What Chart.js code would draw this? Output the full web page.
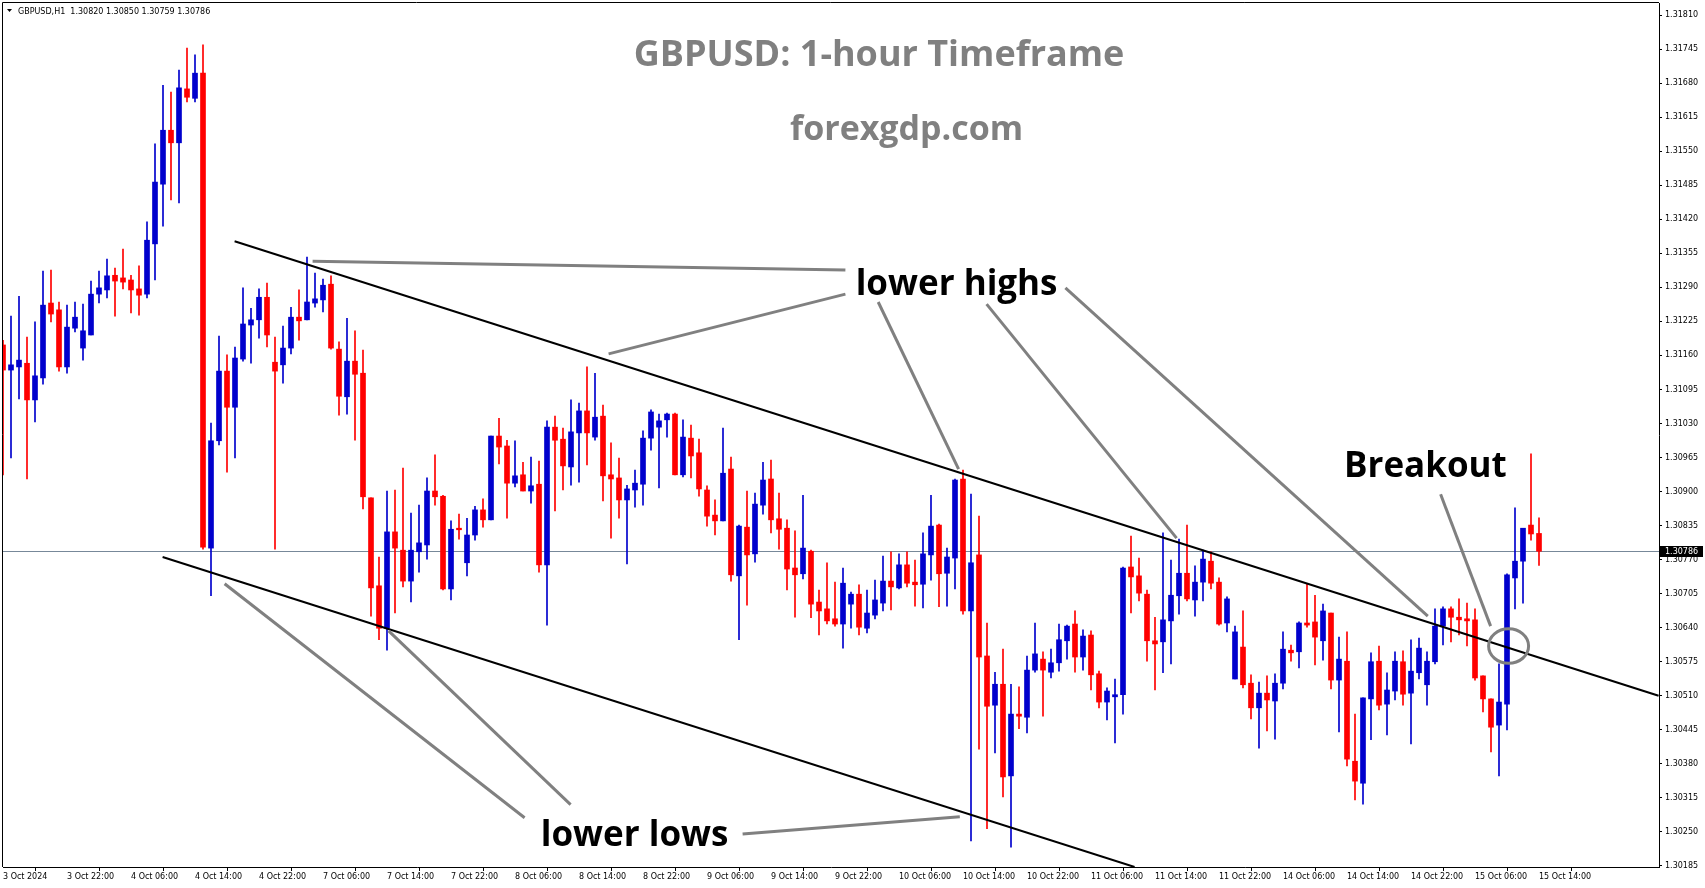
<!DOCTYPE html>
<html lang="en">
<head>
<meta charset="UTF-8">
<title>GBPUSD: 1-hour Timeframe</title>
<script src="https://cdn.jsdelivr.net/npm/chart.js@4"></script>
<style>
  html, body { margin: 0; padding: 0; background: #fff; }
  canvas { display: block; }
</style>
</head>
<body>
<canvas id="chart" width="1705" height="888"></canvas>
<script>
// GBPUSD H1, one bar per hour from 3 Oct 14:00 to 15 Oct 14:00
const symbol = 'GBPUSD,H1';
const openP = [
  1.31180,1.31132,1.31138,1.31145,1.31075,1.31117,1.31260,1.31247,1.31138,1.31212,
  1.31174,1.31199,1.31277,1.31285,1.31313,1.31308,1.31304,1.31287,1.31277,1.31373,
  1.31487,1.31590,1.31566,1.31669,1.31651,1.31699,1.30792,1.30997,1.31130,1.31061,
  1.31153,1.31218,1.31228,1.31271,1.31147,1.31142,1.31174,1.31233,1.31228,1.31260,
  1.31266,1.31296,1.31172,1.31081,1.31149,1.31126,1.30888,1.30720,1.30639,1.30823,
  1.30788,1.30729,1.30785,1.30798,1.30901,1.30891,1.30714,1.30830,1.30764,1.30817,
  1.30865,1.30846,1.31006,1.30987,1.30916,1.30932,1.30901,1.30914,1.30760,1.31023,
  1.31000,1.30947,1.31012,1.31054,1.31004,1.31044,1.30932,1.30926,1.30884,1.30903,
  1.30914,1.31002,1.31023,1.31037,1.31048,1.30932,1.31002,1.30974,1.30903,1.30855,
  1.30844,1.30943,1.30739,1.30832,1.30781,1.30874,1.30924,1.30848,1.30830,1.30754,
  1.30743,1.30786,1.30689,1.30676,1.30657,1.30647,1.30685,1.30704,1.30639,1.30664,
  1.30687,1.30729,1.30716,1.30760,1.30727,1.30723,1.30779,1.30836,1.30744,1.30773,
  1.30924,1.30672,1.30779,1.30586,1.30492,1.30532,1.30357,1.30475,1.30469,1.30559,
  1.30580,1.30555,1.30573,1.30615,1.30647,1.30584,1.30626,1.30552,1.30498,1.30508,
  1.30512,1.30756,1.30739,1.30704,1.30615,1.30613,1.30653,1.30701,1.30744,1.30693,
  1.30727,1.30767,1.30727,1.30649,1.30542,1.30603,1.30534,1.30487,1.30515,1.30500,
  1.30534,1.30597,1.30594,1.30649,1.30651,1.30615,1.30668,1.30540,1.30576,1.30385,
  1.30343,1.30504,1.30576,1.30494,1.30519,1.30575,1.30515,1.30554,1.30531,1.30575,
  1.30643,1.30676,1.30660,1.30657,1.30655,1.30548,1.30504,1.30454,1.30494,1.30735,
  1.30767,1.30836,1.30820
];
const highP = [
  1.31189,1.31235,1.31273,1.31195,1.31224,1.31321,1.31323,1.31262,1.31256,1.31262,
  1.31258,1.31302,1.31321,1.31344,1.31327,1.31363,1.31313,1.31331,1.31415,1.31564,
  1.31676,1.31663,1.31705,1.31747,1.31734,1.31753,1.31031,1.31197,1.31161,1.31176,
  1.31289,1.31250,1.31287,1.31298,1.31195,1.31216,1.31252,1.31285,1.31348,1.31317,
  1.31306,1.31312,1.31186,1.31231,1.31207,1.31170,1.30888,1.30775,1.30901,1.30903,
  1.30945,1.30859,1.30874,1.30926,1.30970,1.30893,1.30844,1.30857,1.30849,1.30872,
  1.30886,1.31006,1.31040,1.30998,1.30997,1.30956,1.30966,1.30958,1.31035,1.31044,
  1.31021,1.31075,1.31069,1.31138,1.31126,1.31065,1.30993,1.30964,1.30912,1.30941,
  1.31016,1.31056,1.31048,1.31050,1.31050,1.31037,1.31027,1.31000,1.30911,1.30884,
  1.31021,1.30966,1.30836,1.30901,1.30897,1.30956,1.30960,1.30897,1.30846,1.30825,
  1.30893,1.30788,1.30712,1.30764,1.30727,1.30754,1.30708,1.30722,1.30712,1.30731,
  1.30777,1.30785,1.30781,1.30785,1.30769,1.30821,1.30893,1.30838,1.30792,1.30924,
  1.30941,1.30895,1.30853,1.30649,1.30555,1.30599,1.30532,1.30527,1.30586,1.30649,
  1.30594,1.30599,1.30647,1.30645,1.30672,1.30636,1.30634,1.30557,1.30525,1.30542,
  1.30756,1.30815,1.30773,1.30712,1.30660,1.30821,1.30769,1.30809,1.30836,1.30758,
  1.30788,1.30785,1.30735,1.30699,1.30643,1.30672,1.30550,1.30536,1.30548,1.30552,
  1.30632,1.30607,1.30651,1.30723,1.30702,1.30685,1.30668,1.30622,1.30632,1.30475,
  1.30506,1.30592,1.30605,1.30554,1.30594,1.30596,1.30617,1.30620,1.30594,1.30676,
  1.30680,1.30680,1.30695,1.30687,1.30676,1.30548,1.30504,1.30571,1.30743,1.30869,
  1.30830,1.30972,1.30850
];
const lowP = [
  1.30932,1.30964,1.31077,1.30924,1.31033,1.31105,1.31224,1.31130,1.31126,1.31205,
  1.31151,1.31199,1.31260,1.31270,1.31235,1.31287,1.31241,1.31237,1.31270,1.31304,
  1.31407,1.31457,1.31451,1.31644,1.31644,1.30790,1.30701,1.30989,1.30937,1.30964,
  1.31149,1.31145,1.31193,1.31176,1.30790,1.31107,1.31163,1.31189,1.31228,1.31252,
  1.31243,1.31172,1.31046,1.31048,1.30998,1.30867,1.30662,1.30617,1.30597,1.30668,
  1.30718,1.30689,1.30746,1.30771,1.30874,1.30712,1.30693,1.30809,1.30739,1.30807,
  1.30832,1.30846,1.30953,1.30849,1.30909,1.30901,1.30878,1.30746,1.30645,1.30863,
  1.30903,1.30912,1.30918,1.30951,1.30998,1.30882,1.30811,1.30849,1.30762,1.30870,
  1.30874,1.30979,1.30907,1.31004,1.30932,1.30928,1.30926,1.30891,1.30834,1.30817,
  1.30844,1.30729,1.30617,1.30683,1.30765,1.30857,1.30821,1.30790,1.30712,1.30660,
  1.30733,1.30659,1.30626,1.30647,1.30643,1.30601,1.30639,1.30626,1.30630,1.30657,
  1.30672,1.30674,1.30714,1.30718,1.30681,1.30678,1.30731,1.30680,1.30681,1.30714,
  1.30666,1.30233,1.30408,1.30256,1.30401,1.30317,1.30221,1.30447,1.30439,1.30555,
  1.30471,1.30544,1.30557,1.30580,1.30555,1.30559,1.30521,1.30487,1.30464,1.30420,
  1.30475,1.30668,1.30691,1.30576,1.30521,1.30554,1.30571,1.30666,1.30691,1.30662,
  1.30691,1.30714,1.30645,1.30632,1.30542,1.30525,1.30466,1.30410,1.30443,1.30427,
  1.30523,1.30576,1.30563,1.30641,1.30569,1.30578,1.30523,1.30441,1.30376,1.30311,
  1.30303,1.30426,1.30483,1.30435,1.30502,1.30492,1.30418,1.30542,1.30492,1.30571,
  1.30607,1.30613,1.30626,1.30605,1.30540,1.30479,1.30403,1.30357,1.30445,1.30676,
  1.30687,1.30807,1.30759
];
const closeP = [
  1.31132,1.31142,1.31151,1.31075,1.31121,1.31256,1.31239,1.31138,1.31214,1.31233,
  1.31207,1.31277,1.31289,1.31312,1.31302,1.31300,1.31285,1.31275,1.31380,1.31491,
  1.31590,1.31566,1.31671,1.31653,1.31699,1.30794,1.30997,1.31130,1.31061,1.31155,
  1.31220,1.31228,1.31271,1.31199,1.31130,1.31174,1.31233,1.31226,1.31262,1.31268,
  1.31294,1.31174,1.31082,1.31149,1.31124,1.30890,1.30716,1.30639,1.30823,1.30792,
  1.30729,1.30788,1.30802,1.30901,1.30890,1.30714,1.30828,1.30827,1.30817,1.30865,
  1.30846,1.31006,1.30985,1.30916,1.30930,1.30901,1.30911,1.30760,1.31023,1.30998,
  1.30949,1.31014,1.31054,1.31012,1.31042,1.30930,1.30924,1.30884,1.30905,1.30916,
  1.31002,1.31052,1.31035,1.31048,1.30932,1.31004,1.30968,1.30905,1.30853,1.30844,
  1.30935,1.30741,1.30834,1.30779,1.30876,1.30922,1.30846,1.30828,1.30752,1.30741,
  1.30792,1.30685,1.30672,1.30653,1.30647,1.30725,1.30704,1.30641,1.30668,1.30693,
  1.30729,1.30718,1.30760,1.30725,1.30722,1.30781,1.30834,1.30743,1.30775,1.30922,
  1.30672,1.30764,1.30584,1.30490,1.30532,1.30355,1.30475,1.30471,1.30559,1.30590,
  1.30559,1.30573,1.30617,1.30643,1.30584,1.30624,1.30550,1.30498,1.30519,1.30512,
  1.30754,1.30737,1.30706,1.30615,1.30609,1.30655,1.30702,1.30744,1.30695,1.30727,
  1.30771,1.30725,1.30647,1.30695,1.30632,1.30531,1.30487,1.30515,1.30502,1.30534,
  1.30599,1.30592,1.30649,1.30645,1.30622,1.30672,1.30540,1.30580,1.30389,1.30347,
  1.30506,1.30575,1.30492,1.30521,1.30576,1.30513,1.30557,1.30601,1.30576,1.30643,
  1.30676,1.30660,1.30655,1.30653,1.30544,1.30504,1.30450,1.30498,1.30741,1.30767,
  1.30830,1.30819,1.30786
];

// time axis: a label every 8 bars, first one marks the first bar
const tickLabels = [
  '3 Oct 2024','3 Oct 22:00','4 Oct 06:00','4 Oct 14:00','4 Oct 22:00',
  '7 Oct 06:00','7 Oct 14:00','7 Oct 22:00','8 Oct 06:00','8 Oct 14:00',
  '8 Oct 22:00','9 Oct 06:00','9 Oct 14:00','9 Oct 22:00','10 Oct 06:00',
  '10 Oct 14:00','10 Oct 22:00','11 Oct 06:00','11 Oct 14:00','11 Oct 22:00',
  '14 Oct 06:00','14 Oct 14:00','14 Oct 22:00','15 Oct 06:00','15 Oct 14:00'
];
const priceTicks = [
  1.31810,1.31745,1.31680,1.31615,1.31550,1.31485,1.31420,1.31355,1.31290,1.31225,
  1.31160,1.31095,1.31030,1.30965,1.30900,1.30835,1.30770,1.30705,1.30640,1.30575,
  1.30510,1.30445,1.30380,1.30315,1.30250,1.30185
];
const shiftBars = 15;   // empty space right of the last bar
const yMin = 1.30183, yMax = 1.31833;

// drawn objects, in [bar index, price]
const trendLines = [
  [28.95, 1.31378, 206.95, 1.30510],
  [19.95, 1.30775, 141.45, 1.30183]
];
const pointers = [
  [38.7, 1.31340, 105.3, 1.31323],
  [75.7, 1.31163, 105.3, 1.31277],
  [109.4, 1.31262, 119.45, 1.30943],
  [122.95, 1.31258, 146.7, 1.30811],
  [132.8, 1.31289, 178.1, 1.30662],
  [179.7, 1.30895, 185.95, 1.30643],
  [27.7, 1.30724, 65.2, 1.30277],
  [48.2, 1.30634, 70.95, 1.30302],
  [92.45, 1.30246, 119.6, 1.30279]
];
const breakoutCircle = { x: 188.2, y: 1.30605, rx: 2.5, ry: 0.00033 };
const notes = [
  { text: 'GBPUSD: 1-hour Timeframe', x: 109.5, y: 1.31713, size: 36, color: '#808080' },
  { text: 'forexgdp.com', x: 112.95, y: 1.31571, size: 34, color: '#808080' },
  { text: 'lower highs', x: 119.2, y: 1.31275, size: 35, color: '#000000' },
  { text: 'lower lows', x: 78.95, y: 1.30223, size: 35, color: '#000000' },
  { text: 'Breakout', x: 177.8, y: 1.30928, size: 35, color: '#000000' }
];

const UP = '#0000CD', DOWN = '#FF0000';
const n = openP.length;
const last = closeP[n - 1];
const cats = Array.from({ length: n + shiftBars }, (_, i) => i);
const bodies = openP.map((o, i) => [o, closeP[i]]);
const wicks = lowP.map((l, i) => [l, highP[i]]);
const colors = openP.map((o, i) => closeP[i] >= o ? UP : DOWN);

const overlay = {
  id: 'overlay',
  beforeDatasetsDraw(chart) {
    const { ctx, chartArea: a, scales: { y } } = chart;
    const py = Math.round(y.getPixelForValue(last)) + 0.5;
    ctx.save();
    ctx.strokeStyle = '#778899';
    ctx.lineWidth = 1;
    ctx.beginPath();
    ctx.moveTo(a.left, py);
    ctx.lineTo(a.right, py);
    ctx.stroke();
    ctx.restore();
  },
  afterDatasetsDraw(chart) {
    const { ctx, chartArea: a, scales: { x, y } } = chart;
    ctx.save();
    ctx.beginPath();
    ctx.rect(a.left - 2, a.top, a.right - a.left + 2, a.bottom - a.top);
    ctx.clip();

    ctx.strokeStyle = '#000';
    ctx.lineWidth = 2;
    trendLines.forEach(([x1, y1, x2, y2]) => {
      ctx.beginPath();
      ctx.moveTo(x.getPixelForValue(x1), y.getPixelForValue(y1));
      ctx.lineTo(x.getPixelForValue(x2), y.getPixelForValue(y2));
      ctx.stroke();
    });

    ctx.strokeStyle = '#808080';
    ctx.lineWidth = 3;
    pointers.forEach(([x1, y1, x2, y2]) => {
      ctx.beginPath();
      ctx.moveTo(x.getPixelForValue(x1), y.getPixelForValue(y1));
      ctx.lineTo(x.getPixelForValue(x2), y.getPixelForValue(y2));
      ctx.stroke();
    });

    const c = breakoutCircle;
    const cx = x.getPixelForValue(c.x), cy = y.getPixelForValue(c.y);
    const rx = x.getPixelForValue(c.x + c.rx) - cx;
    const ry = y.getPixelForValue(c.y) - y.getPixelForValue(c.y + c.ry);
    ctx.beginPath();
    ctx.ellipse(cx, cy, rx, ry, 0, 0, Math.PI * 2);
    ctx.stroke();

    ctx.textAlign = 'center';
    ctx.textBaseline = 'alphabetic';
    notes.forEach(t => {
      ctx.font = `bold ${t.size}px "Open Sans"`;
      ctx.fillStyle = t.color;
      ctx.fillText(t.text, x.getPixelForValue(t.x), y.getPixelForValue(t.y));
    });
    ctx.restore();
  },
  afterDraw(chart) {
    const { ctx, chartArea: a, scales: { y } } = chart;
    ctx.save();
    // frame
    ctx.strokeStyle = '#000';
    ctx.lineWidth = 1;
    ctx.beginPath();
    ctx.moveTo(2.5, a.bottom);
    ctx.lineTo(2.5, 2.5);
    ctx.lineTo(a.right, 2.5);
    ctx.stroke();

    // current price tag
    const py = Math.round(y.getPixelForValue(last));
    ctx.fillStyle = '#000';
    ctx.fillRect(a.right + 1, py - 5, 43, 11);
    ctx.fillStyle = '#fff';
    ctx.font = '8px "DejaVu Sans"';
    ctx.textAlign = 'left';
    ctx.textBaseline = 'middle';
    ctx.fillText(last.toFixed(5), a.right + 6, py + 0.5);

    // header line
    ctx.fillStyle = '#000';
    ctx.beginPath();
    ctx.moveTo(7, 9);
    ctx.lineTo(12, 9);
    ctx.lineTo(9.5, 12);
    ctx.closePath();
    ctx.fill();
    const ohlc = [openP[n - 1], highP[n - 1], lowP[n - 1], closeP[n - 1]].map(v => v.toFixed(5)).join(' ');
    ctx.textBaseline = 'alphabetic';
    ctx.fillText(symbol + '  ' + ohlc, 18, 14);
    ctx.restore();
  }
};

const axisFont = { family: 'DejaVu Sans', size: 8 };

new Chart(document.getElementById('chart'), {
  type: 'bar',
  data: {
    labels: cats,
    datasets: [
      { data: bodies, backgroundColor: colors, barThickness: 5, minBarLength: 1, grouped: false, borderWidth: 0 },
      { data: wicks, backgroundColor: colors, barThickness: 1, grouped: false, borderWidth: 0 }
    ]
  },
  options: {
    responsive: false,
    animation: false,
    devicePixelRatio: 1,
    layout: { padding: { left: 3, top: 3, right: 0, bottom: 0 } },
    plugins: { legend: { display: false }, tooltip: { enabled: false } },
    scales: {
      x: {
        type: 'category',
        offset: false,
        grid: { drawOnChartArea: false, drawTicks: true, tickLength: 4, color: '#000' },
        border: { display: true, color: '#000', width: 1 },
        ticks: {
          autoSkip: false, maxRotation: 0, minRotation: 0, align: 'start',
          padding: 1, color: '#000', font: axisFont,
          callback: v => tickLabels[v / 8]
        },
        afterBuildTicks: s => { s.ticks = s.ticks.filter(t => t.value % 8 === 0 && t.value < n); },
        afterFit: s => { s.height = 21; s.paddingLeft = 0; s.paddingRight = 0; }
      },
      y: {
        type: 'linear',
        position: 'right',
        min: yMin,
        max: yMax,
        grid: { drawOnChartArea: false, drawTicks: true, tickLength: 3, color: '#000' },
        border: { display: true, color: '#000', width: 1 },
        ticks: { padding: 3, color: '#000', font: axisFont, callback: v => v.toFixed(5) },
        afterBuildTicks: s => { s.ticks = priceTicks.map(v => ({ value: v })); },
        afterFit: s => { s.width = 46; s.paddingTop = 0; s.paddingBottom = 0; }
      }
    }
  },
  plugins: [overlay]
});
</script>
</body>
</html>
